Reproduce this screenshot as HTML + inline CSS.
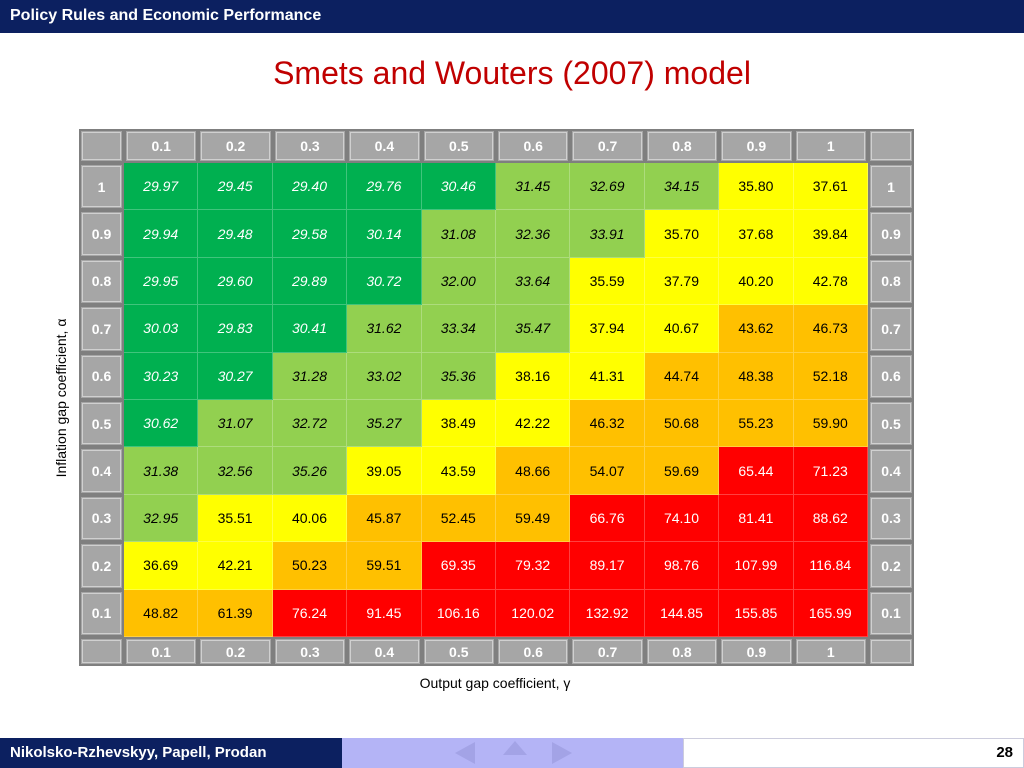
<!DOCTYPE html>
<html><head><meta charset="utf-8"><style>
body{margin:0;width:1024px;height:768px;position:relative;background:#fff;font-family:"Liberation Sans",sans-serif;overflow:hidden}
.abs{position:absolute}
.c{position:absolute;display:flex;align-items:center;justify-content:center;font-size:14px;box-sizing:border-box}
.g{background:#A6A6A6;color:#fff;font-weight:bold;border:2px solid #7f7f7f;outline:1px solid #d0d0d0;outline-offset:-4px}
</style></head><body>
<div class="abs" style="left:0;top:0;width:1024px;height:33px;background:#0c2060"></div>
<div class="abs" style="left:10px;top:7px;color:#fff;font-weight:bold;font-size:16px">Policy Rules and Economic Performance</div>
<div class="abs" style="left:0;width:1024px;top:55px;text-align:center;color:#c00000;font-size:32px">Smets and Wouters (2007) model</div>
<div class="abs" style="left:61px;top:398px;transform:translate(-50%,-50%) rotate(-90deg);white-space:nowrap;font-size:14px">Inflation gap coefficient, α</div>
<div class="abs" style="left:0;width:990px;top:675px;text-align:center;font-size:14px">Output gap coefficient, γ</div>
<div id="tbl"></div>
<div class="abs" style="left:0;top:738px;width:342px;height:30px;background:#0c2060;color:#fff;font-weight:bold;font-size:15px;line-height:30px;padding-left:10px;box-sizing:border-box">Nikolsko-Rzhevskyy, Papell, Prodan</div>
<div class="abs" style="left:342px;top:738px;width:341px;height:30px;background:#b4b4f6"></div>
<div class="abs" style="left:455px;top:742px;width:0;height:0;border-top:11px solid transparent;border-bottom:11px solid transparent;border-right:20px solid #a3a3e6"></div>
<div class="abs" style="left:503px;top:741px;width:0;height:0;border-left:12px solid transparent;border-right:12px solid transparent;border-bottom:14px solid #a3a3e6"></div>
<div class="abs" style="left:552px;top:742px;width:0;height:0;border-top:11px solid transparent;border-bottom:11px solid transparent;border-left:20px solid #a3a3e6"></div>
<div class="abs" style="left:683px;top:738px;width:341px;height:30px;border:1px solid #ccd;box-sizing:border-box;text-align:right;padding-right:10px;font-weight:bold;font-size:15px;line-height:28px">28</div>
<script>
const cols=["0.1","0.2","0.3","0.4","0.5","0.6","0.7","0.8","0.9","1"];
const rows=["1","0.9","0.8","0.7","0.6","0.5","0.4","0.3","0.2","0.1"];
const r1=[29.97,29.45,29.40,29.76,30.46,31.45,32.69,34.15,35.80,37.61];
const r09=[29.94,29.48,29.58,30.14,31.08,32.36,33.91,35.70,37.68,39.84];
const r08=[29.95,29.60,29.89,30.72,32.00,33.64,35.59,37.79,40.20,42.78];
const r07=[30.03,29.83,30.41,31.62,33.34,35.47,37.94,40.67,43.62,46.73];
const r06=[30.23,30.27,31.28,33.02,35.36,38.16,41.31,44.74,48.38,52.18];
const r05=[30.62,31.07,32.72,35.27,38.49,42.22,46.32,50.68,55.23,59.90];
const r04=[31.38,32.56,35.26,39.05,43.59,48.66,54.07,59.69,65.44,71.23];
const r03=[32.95,35.51,40.06,45.87,52.45,59.49,66.76,74.10,81.41,88.62];
const r02=[36.69,42.21,50.23,59.51,69.35,79.32,89.17,98.76,107.99,116.84];
const r01=[48.82,61.39,76.24,91.45,106.16,120.02,132.92,144.85,155.85,165.99];
const values=[r1,r09,r08,r07,r06,r05,r04,r03,r02,r01];
const L=79,LW=45,CW=74.4,T=129,HH=34,RH=47.4,BH=29;
const tbl=document.getElementById('tbl');
function cell(x,y,w,h,cls,txt,st){const d=document.createElement('div');d.className='c '+cls;d.style.left=x+'px';d.style.top=y+'px';d.style.width=w+'px';d.style.height=h+'px';if(st)Object.assign(d.style,st);d.textContent=txt;tbl.appendChild(d);return d;}
function style(v){
 if(v<31)return{background:'#00B050',color:'#fff',fontStyle:'italic'};
 if(v<35.5)return{background:'#92D050',color:'#000',fontStyle:'italic'};
 if(v<43.6)return{background:'#FFFF00',color:'#000'};
 if(v<62)return{background:'#FFC000',color:'#000'};
 return{background:'#FF0000',color:'#fff'};
}
const R=L+LW+CW*cols.length, BT=T+HH+RH*rows.length;
let e=cell(L,T,LW,HH,'g','');


e=cell(R,T,46,HH,'g','');


e=cell(L,BT,LW,BH,'g','');


e=cell(R,BT,46,BH,'g','');


cols.forEach((c,j)=>{
 const x=L+LW+CW*j;
 let a=cell(x,T,CW,HH,'g',c);
 
 
 let b=cell(x,BT,CW,BH,'g',c);
 
 
});
rows.forEach((r,i)=>{
 const y=T+HH+RH*i;
 let a=cell(L,y,LW,RH,'g',r);
 
 
 let b=cell(R,y,46,RH,'g',r);
 
 
 values[i].forEach((v,j)=>{
  const s=style(v);s.borderRight='1px solid rgba(255,255,255,0.25)';s.borderBottom='1px solid rgba(255,255,255,0.25)';
  let d=cell(L+LW+CW*j,y,CW,RH,'',v.toFixed(2),s);
  
  
 });
});
</script>
</body></html>
